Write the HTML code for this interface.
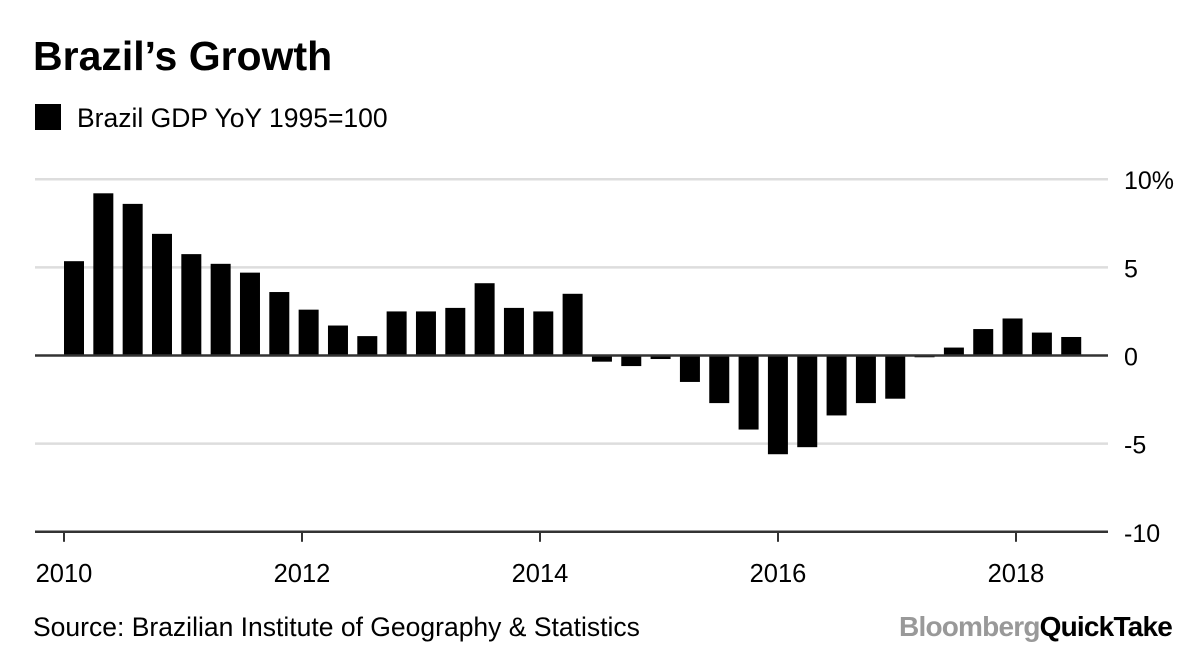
<!DOCTYPE html>
<html><head><meta charset="utf-8"><style>
body{margin:0;background:#fff;width:1200px;height:657px;overflow:hidden;font-family:"Liberation Sans",Arial,sans-serif;}
</style></head><body>
<svg width="1200" height="657" xmlns="http://www.w3.org/2000/svg" font-family="Liberation Sans, Arial, sans-serif">
<text x="33" y="70" font-size="41" font-weight="bold" fill="#000">Brazil’s Growth</text>
<rect x="35" y="104" width="26" height="26" fill="#000"/>
<text x="77" y="127" font-size="26.5" fill="#000">Brazil GDP YoY 1995=100</text>
<g id="grid"></g><g id="bars"></g><g id="axes"></g>
<text x="33" y="636" font-size="26.5" fill="#000">Source: Brazilian Institute of Geography &amp; Statistics</text>
<text x="1172" y="636" font-size="28" text-anchor="end" font-weight="bold" letter-spacing="-0.8"><tspan fill="#999">Bloomberg</tspan><tspan fill="#000">QuickTake</tspan></text>
</svg>
<script>
const values=[5.35,9.2,8.6,6.9,5.75,5.2,4.7,3.6,2.6,1.7,1.1,2.5,2.5,2.7,4.1,2.7,2.5,3.5,-0.35,-0.6,-0.2,-1.5,-2.7,-4.2,-5.6,-5.2,-3.4,-2.7,-2.45,-0.1,0.45,1.5,2.1,1.3,1.05];
const yTicks=[10,5,0,-5,-10];
const yTickLabels=["10%","5","0","-5","-10"];
const xYears=[2010,2012,2014,2016,2018];
const NS="http://www.w3.org/2000/svg";
const y=v=>355.5-v*17.63;
const xYear=yr=>64+(yr-2010)*119;
const xBar=i=>64+i*29.33;
const grid=document.getElementById('grid'),bars=document.getElementById('bars'),axes=document.getElementById('axes');
function mk(tag,attrs,parent){const e=document.createElementNS(NS,tag);for(const k in attrs)e.setAttribute(k,attrs[k]);parent.appendChild(e);return e;}
yTicks.forEach((t,i)=>{
  if(t!==0&&t!==-10){const l=mk('line',{x1:35,x2:1108,y1:y(t),y2:y(t),stroke:'#ddd','stroke-width':2.5},grid);
  
  }
  const tx=mk('text',{x:1124,y:y(t)+10,'font-size':25,fill:'#000'},axes);tx.textContent=yTickLabels[i];
  
  
});
values.forEach((v,i)=>{
  const top=Math.min(y(v),y(0)),h=Math.max(Math.abs(y(v)-y(0)),1.5);
  const r=mk('rect',{x:xBar(i),y:top,width:20,height:h,fill:'#000'},bars);
  
  
});
const z=mk('line',{x1:35,x2:1108,y1:y(0),y2:y(0),stroke:'#333','stroke-width':2.5},axes);


const xb=mk('line',{x1:35,x2:1108,y1:y(-10),y2:y(-10),stroke:'#333','stroke-width':2.5},axes);


xYears.forEach(yr=>{
  const tk=mk('line',{x1:xYear(yr),x2:xYear(yr),y1:y(-10),y2:y(-10)+10,stroke:'#333','stroke-width':2},axes);
  
  
  const t=mk('text',{x:xYear(yr),y:582,'font-size':25.5,'text-anchor':'middle',fill:'#000'},axes);t.textContent=yr;
  
  
});
</script>
</body></html>
